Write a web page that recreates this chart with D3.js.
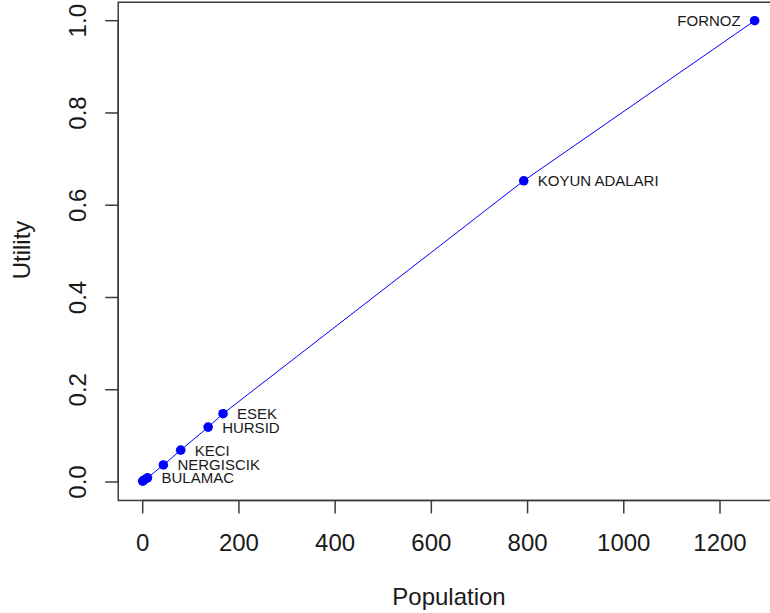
<!DOCTYPE html>
<meta charset="utf-8">
<style>
  body { margin: 0; background: #fff; }
  text { font-family: "Liberation Sans", Arial, sans-serif; fill: #1a1a1a; }
</style>
<svg width="770" height="613"></svg>
<script src="https://d3js.org/d3.v7.min.js"></script>
<script>
  // villages: population vs utility
  var names = ["", "", "BULAMAC", "NERGISCIK", "KECI", "HURSID", "ESEK", "KOYUN ADALARI", "FORNOZ"];
  var population = [0, 4, 10, 43, 79, 136, 167, 792, 1272];
  var utility = [0.002, 0.005, 0.009, 0.037, 0.069, 0.119, 0.148, 0.653, 1.0];
  var labelSide = ["right", "right", "right", "right", "right", "right", "right", "right", "left"];

  var xTicks = [0, 200, 400, 600, 800, 1000, 1200];
  var yTicks = [0, 0.2, 0.4, 0.6, 0.8, 1.0];

  var svg = d3.select("svg");

  var pts = population.map(function(p, i) {
    return { x: p, y: utility[i], name: names[i], side: labelSide[i] };
  });

  var x = d3.scaleLinear().domain([0, 1200]).range([142.7, 720]);
  var y = d3.scaleLinear().domain([0, 1]).range([482, 20.7]);

  // R style 4% padding for the box
  var xr = d3.extent(population), yr = d3.extent([0].concat(utility));
  var xpad = (xr[1] - xr[0]) * 0.04, ypad = (yr[1] - yr[0]) * 0.04;
  var bx0 = x(xr[0] - xpad), bx1 = x(xr[1] + xpad + 60);
  var by0 = y(yr[1] + ypad), by1 = y(yr[0] - ypad);

  svg.append("rect")
    .attr("x", bx0).attr("y", by0)
    .attr("width", bx1 - bx0).attr("height", by1 - by0)
    .attr("fill", "none").attr("stroke", "#3c3c3c").attr("stroke-width", 1.5);

  // x axis
  var gx = svg.append("g").attr("stroke", "#3c3c3c").attr("stroke-width", 1.5);
  gx.append("line")
    .attr("x1", x(xTicks[0])).attr("x2", x(xTicks[xTicks.length - 1]))
    .attr("y1", by1).attr("y2", by1);
  gx.selectAll(".tk").data(xTicks).enter().append("line")
    .attr("x1", function(d) { return x(d); }).attr("x2", function(d) { return x(d); })
    .attr("y1", by1).attr("y2", by1 + 13);
  svg.selectAll(".xl").data(xTicks).enter().append("text")
    .attr("x", function(d) { return x(d); })
    .attr("y", 551)
    .attr("text-anchor", "middle")
    .attr("font-size", 24)
    .text(function(d) { return d; });

  // y axis
  var gy = svg.append("g").attr("stroke", "#3c3c3c").attr("stroke-width", 1.5);
  gy.append("line")
    .attr("x1", bx0).attr("x2", bx0)
    .attr("y1", y(yTicks[0])).attr("y2", y(yTicks[yTicks.length - 1]));
  gy.selectAll(".tk").data(yTicks).enter().append("line")
    .attr("x1", bx0 - 13).attr("x2", bx0)
    .attr("y1", function(d) { return y(d); }).attr("y2", function(d) { return y(d); });
  svg.selectAll(".yl").data(yTicks).enter().append("text")
    .attr("transform", function(d) { return "translate(86," + y(d) + ") rotate(-90)"; })
    .attr("text-anchor", "middle")
    .attr("font-size", 24)
    .text(function(d) { return d3.format(".1f")(d); });

  // axis titles
  svg.append("text")
    .attr("x", 449).attr("y", 605)
    .attr("text-anchor", "middle").attr("font-size", 24)
    .text("Population");
  svg.append("text")
    .attr("transform", "translate(30,250) rotate(-90)")
    .attr("text-anchor", "middle").attr("font-size", 24)
    .text("Utility");

  // line + points
  var line = d3.line().x(function(d) { return x(d.x); }).y(function(d) { return y(d.y); });
  svg.append("path")
    .datum(pts)
    .attr("d", line)
    .attr("fill", "none").attr("stroke", "#0000ff").attr("stroke-width", 1);

  svg.selectAll(".pt").data(pts).enter().append("circle")
    .attr("cx", function(d) { return x(d.x); })
    .attr("cy", function(d) { return y(d.y); })
    .attr("r", 4.8)
    .attr("fill", "#0000ff");

  svg.selectAll(".lab").data(pts.filter(function(d) { return d.name; })).enter().append("text")
    .attr("x", function(d) { return d.side == "left" ? x(d.x) - 14 : x(d.x) + 14; })
    .attr("y", function(d) { return y(d.y); })
    .attr("dy", "0.36em")
    .attr("text-anchor", function(d) { return d.side == "left" ? "end" : "start"; })
    .attr("font-size", 15)
    .text(function(d) { return d.name; });
</script>
